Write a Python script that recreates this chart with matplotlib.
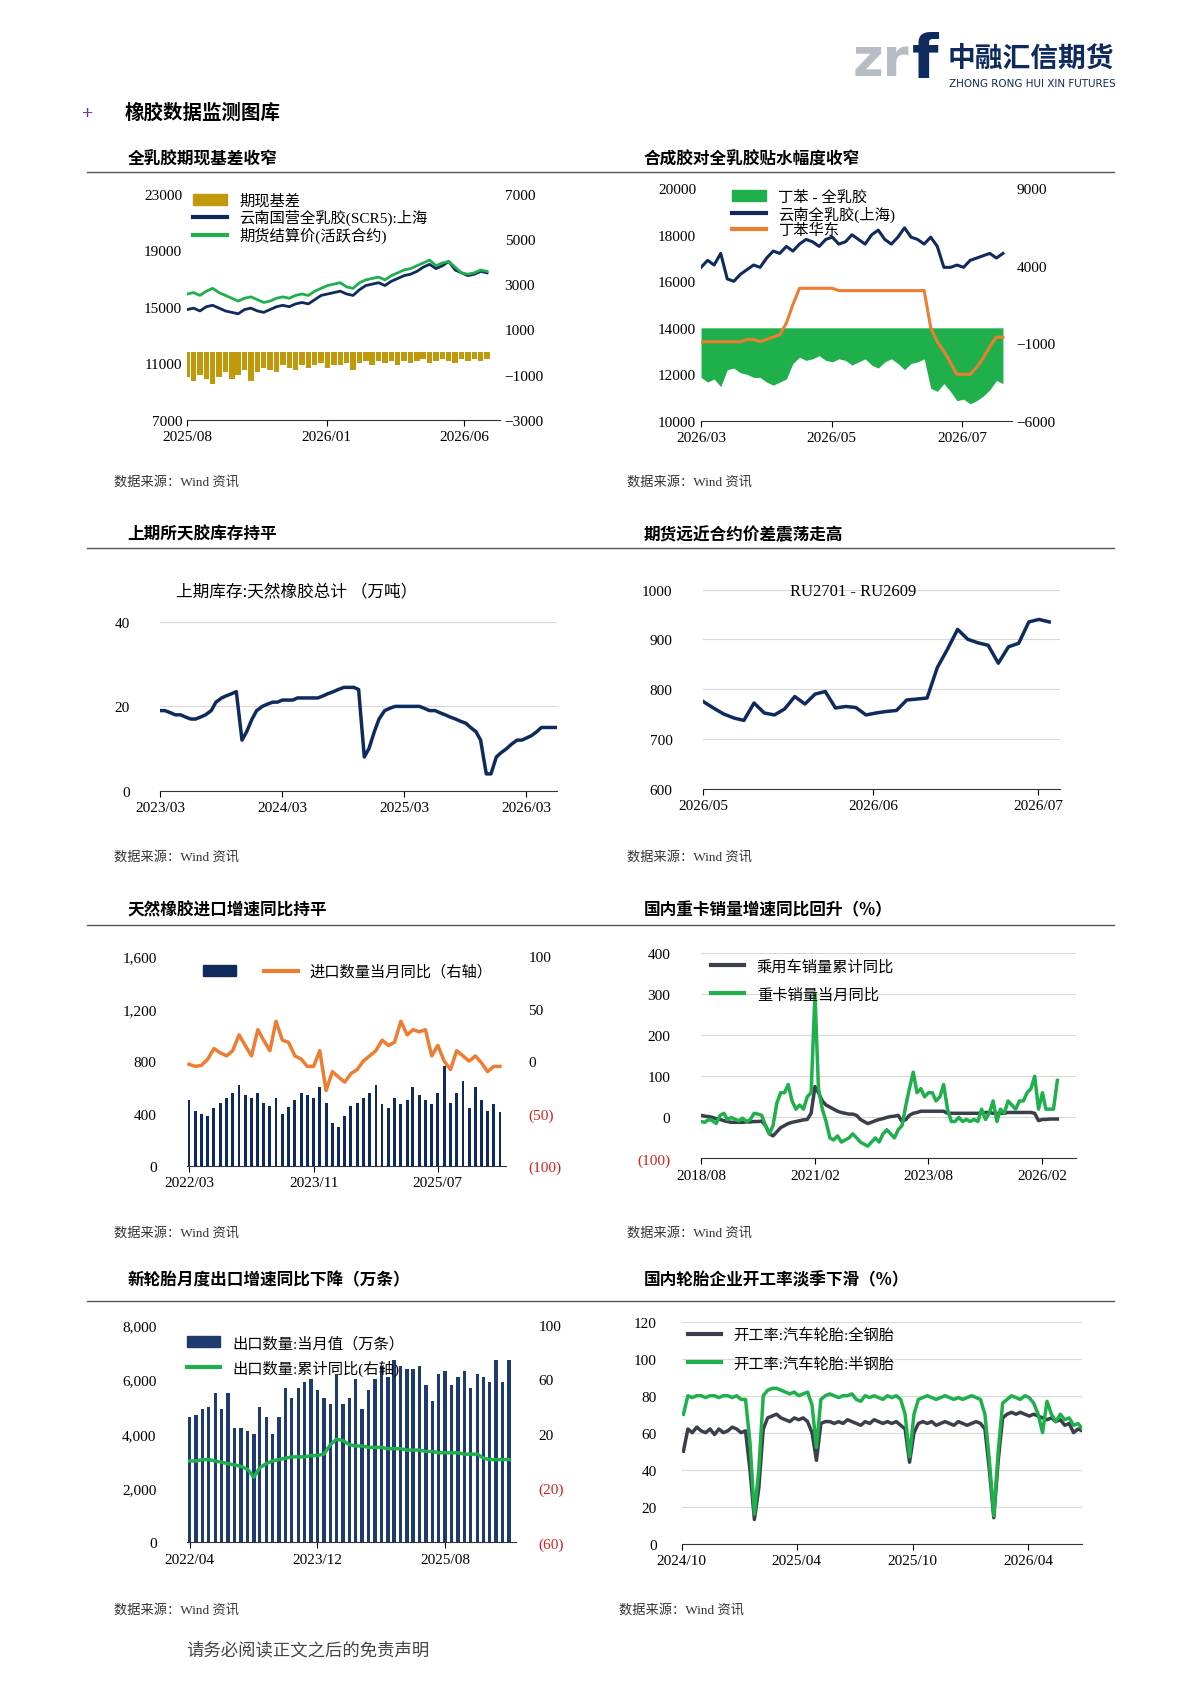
import numpy as np
import pandas as pd
import matplotlib
matplotlib.use("Agg")
import matplotlib.pyplot as plt
import matplotlib.dates as mdates
from matplotlib.patches import Patch
from matplotlib.lines import Line2D
from matplotlib.ticker import FuncFormatter, FixedLocator

plt.rcParams["font.family"] = ["Liberation Serif", "Noto Sans CJK SC", "DejaVu Sans"]
plt.rcParams["font.size"] = 10

NAVY = "#0f2a5c"
GREEN = "#1fb04c"
GOLD = "#c09a0a"
ORANGE = "#ec7d31"
DARK = "#3a3f4b"
RED = "#d62020"

# ---------------- data ----------------
# chart 1: basis (weekly)
c1_dates = pd.date_range("2025-08-01", periods=48, freq="7D")
c1_scr5 = [14800, 14900, 14700, 15000, 15100, 14900, 14700, 14600, 14500, 14800, 14900, 14700,
           14600, 14800, 15000, 15100, 15000, 15200, 15300, 15200, 15500, 15800, 15900, 16000,
           16100, 15900, 15800, 16200, 16500, 16600, 16700, 16500, 16800, 17000, 17200, 17300,
           17500, 17800, 18000, 17700, 17900, 18200, 17600, 17400, 17200, 17300, 17500, 17400]
c1_fut = [15900, 16000, 15800, 16100, 16300, 16000, 15800, 15600, 15400, 15600, 15700, 15500,
          15300, 15400, 15600, 15700, 15600, 15800, 15900, 15800, 16100, 16300, 16500, 16600,
          16700, 16400, 16300, 16700, 16900, 17000, 17100, 16900, 17200, 17400, 17600, 17700,
          17900, 18100, 18300, 17900, 18100, 18200, 17800, 17400, 17300, 17400, 17600, 17500]
c1_basis = [-1100, -1300, -1000, -1200, -1400, -1100, -900, -1200, -1000, -800, -1300, -900,
            -700, -800, -900, -600, -700, -800, -600, -700, -600, -500, -700, -600,
            -600, -500, -800, -500, -400, -600, -400, -500, -400, -600, -400, -500,
            -400, -300, -500, -400, -300, -400, -500, -300, -400, -300, -400, -300]

# chart 2: SBR vs natural rubber
c2_dates = pd.date_range("2026-03-01", "2026-07-20", periods=47)
c2_nr = [16600, 16900, 16700, 17200, 16100, 16000, 16300, 16500, 16700, 16600, 17000, 17300,
         17200, 17500, 17300, 17600, 17800, 17700, 17500, 17800, 17900, 17600, 17700, 18000,
         17800, 17600, 18000, 18200, 17800, 17600, 17900, 18300, 17900, 17800, 17600, 17900,
         17500, 16600, 16600, 16700, 16600, 16900, 17000, 17100, 17200, 17000, 17200]
c2_sbr = [13400, 13400, 13400, 13400, 13400, 13400, 13400, 13500, 13500, 13400, 13500, 13600,
          13700, 14200, 15000, 15700, 15700, 15700, 15700, 15700, 15700, 15600, 15600, 15600,
          15600, 15600, 15600, 15600, 15600, 15600, 15600, 15600, 15600, 15600, 15600, 14000,
          13400, 13000, 12500, 12000, 12000, 12000, 12300, 12700, 13200, 13600, 13600]
c2_diff = [-3200, -3500, -3300, -3800, -2700, -2600, -2900, -3000, -3200, -3200, -3500, -3700,
           -3500, -3300, -2300, -1900, -2100, -2000, -1800, -2100, -2200, -2000, -2100, -2400,
           -2200, -2000, -2400, -2600, -2200, -2000, -2300, -2700, -2300, -2200, -2000, -3900,
           -4100, -3600, -4100, -4700, -4600, -4900, -4700, -4400, -4000, -3400, -3600]

# chart 3: SHFE inventory (semi-monthly)
c3_dates = pd.date_range("2023-03-01", periods=79, freq="SMS")
c3_inv = [19, 19, 18.5, 18, 18, 17.5, 17, 17, 17.5, 18, 19, 21, 22, 22.5, 23, 23.5, 12, 14, 17, 19,
          20, 20.5, 21, 21, 21.5, 21.5, 21.5, 22, 22, 22, 22, 22, 22.5, 23, 23.5, 24, 24.5, 24.5, 24.5, 24,
          8, 10, 14, 17, 19, 19.5, 20, 20, 20, 20, 20, 20, 19.5, 19, 19, 18.5, 18, 17.5, 17, 16.5,
          16, 15, 14, 12, 4, 4, 8, 9, 10, 11, 12, 12, 12.5, 13, 14, 15, 15, 15, 15]

# chart 4: RU2701 - RU2609
c4_dates = pd.date_range("2026-05-01", "2026-07-03", periods=35)
c4_spread = [775, 762, 750, 742, 737, 772, 752, 748, 760, 785, 770, 790, 795, 762, 765, 763, 748,
             752, 755, 757, 778, 780, 782, 843, 880, 920, 900, 893, 888, 852, 885, 892, 935, 940, 935]

# chart 5: natural rubber imports (monthly)
c5_dates = pd.date_range("2022-03-01", periods=51, freq="MS")
c5_qty = [500, 420, 400, 380, 440, 480, 520, 560, 620, 540, 520, 560, 480, 460, 520, 400, 450,
          500, 560, 540, 520, 600, 480, 330, 300, 380, 460, 480, 520, 560, 620, 470, 440, 520,
          470, 500, 600, 540, 500, 470, 560, 760, 480, 560, 650, 440, 600, 500, 420, 470, 410]
c5_yoy = [-3, -5, -4, 2, 12, 8, 5, 10, 25, 15, 5, 30, 20, 10, 38, 20, 18, 5, 2, -5, -5, 10, -28,
          -10, -15, -20, -12, -8, 0, 5, 10, 20, 15, 18, 38, 25, 30, 28, 30, 5, 15, 0, -8, 10, 5,
          0, 5, -2, -10, -5, -5]

# chart 6: vehicle sales yoy (monthly)
c6_dates = pd.date_range("2018-08-01", periods=95, freq="MS")
c6_car = [5, 3, 2, 0, -3,
          -5, -8, -10, -12, -12, -12, -12, -11, -11, -10, -10, -9,
          -20, -40, -45, -35, -25, -20, -15, -12, -10, -8, -6, -5,
          10, 75, 60, 40, 30, 25, 20, 15, 12, 10, 8, 8,
          5, -5, -10, -15, -12, -8, -5, -3, 0, 2, 3, 5,
          -10, -5, 5, 10, 12, 15, 15, 15, 15, 15, 15, 15,
          10, 10, 10, 10, 10, 10, 10, 10, 10, 10, 12, 12,
          10, 10, 10, 10, 12, 12, 12, 12, 12, 12, 12, 10,
          -8, -5, -5, -4, -4, -4]
c6_truck = [-10, -12, -5, -8, -15,
            5, 10, -5, 0, -5, -8, -2, -10, -5, 10, 8, 5,
            -20, -40, -20, 35, 60, 60, 80, 40, 20, 30, 20, 50,
            60, 300, 70, 20, -10, -50, -55, -45, -60, -55, -50, -40,
            -50, -60, -65, -70, -60, -50, -60, -40, -30, -40, -50, -30,
            -20, 30, 70, 110, 60, 70, 50, 60, 60, 40, 50, 80,
            20, -10, -10, 0, -10, -5, -10, -5, -10, 20, -5, 10,
            40, -10, 20, 10, 40, 30, 20, 40, 40, 60, 70, 100,
            20, 60, 20, 20, 20, 90]

# chart 7: tyre exports (monthly)
c7_dates = pd.date_range("2022-04-01", periods=51, freq="MS")
c7_qty = [4600, 4700, 4900, 5000, 5500, 4900, 5500, 4200, 4200, 4100, 4000, 5000, 4600, 4000,
          4600, 5700, 5300, 5700, 5900, 6000, 5600, 5300, 5100, 6200, 5100, 5300, 6000, 4900,
          5600, 6000, 6500, 6100, 6700, 6500, 6400, 6400, 6500, 5800, 5200, 6200, 6300, 5800,
          6100, 6300, 5700, 6200, 6100, 5900, 6700, 5900, 6700]
c7_cum = [0, 0, 1, 1, 0, -1, -2, -3, -4, -6, -12, -5, -2, 0, 1, 2, 3, 3, 3, 4, 4, 5, 12, 16, 15,
          12, 11, 11, 10, 10, 10, 9, 9, 9, 8, 8, 8, 7, 7, 6, 6, 6, 6, 5, 5, 5, 2, 1, 1, 1, 1]

# chart 8: tyre operating rates (weekly)
c8_dates = pd.date_range("2024-10-04", periods=91, freq="7D")
c8_full = [50, 62, 60, 63, 61, 60, 62, 59, 62, 60, 61, 63, 62, 60, 61,
           40, 13, 30,
           62, 68, 69, 70, 68, 67, 66, 68, 67, 68, 66, 60,
           45,
           65, 66, 66, 65, 66, 65, 67, 66, 65, 64, 66, 65, 67, 66, 65, 66, 65, 66, 64, 62,
           44, 60,
           65, 66, 65, 66, 64, 65, 66, 65, 64, 66, 65, 64, 65, 66, 65, 62,
           40, 14, 45,
           68, 70, 71, 70, 71, 70, 69, 70, 69, 68, 67, 68, 66, 67, 64, 65, 60, 62, 61]
c8_semi = [70, 80, 79, 80, 80, 79, 80, 80, 79, 80, 80, 79, 80, 78, 78,
           55, 16, 40,
           80, 83, 84, 84, 83, 82, 81, 82, 80, 81, 82, 75,
           52,
           78, 80, 81, 80, 79, 80, 80, 81, 78, 77, 80, 79, 80, 79, 78, 80, 79, 80, 78, 70,
           47, 70,
           78, 79, 80, 79, 78, 79, 80, 79, 78, 79, 78, 79, 80, 79, 78, 70,
           45, 15, 50,
           76, 78, 80, 79, 78, 80, 79, 76, 70, 60, 77, 70, 66, 70, 67, 68, 64, 65, 62]

# ---------------- layout helpers ----------------
W, H = 1100.0, 1556.0
fig = plt.figure(figsize=(11.9, 16.83), dpi=100)


def rect(x0, y0, x1, y1):
    return [x0 / W, 1 - y1 / H, (x1 - x0) / W, (y1 - y0) / H]


def ftext(x, y, s, **kw):
    fig.text(x / W, 1 - y / H, s, **kw)


def hline(x0, x1, y, color="#555", lw=1.0):
    fig.add_artist(Line2D([x0 / W, x1 / W], [1 - y / H, 1 - y / H], color=color, lw=lw))


def style(ax, grid=False):
    for s in ("top", "right", "left"):
        ax.spines[s].set_visible(False)
    ax.spines["bottom"].set_color("#333")
    ax.tick_params(axis="y", length=0, labelsize=11)
    ax.tick_params(axis="x", labelsize=11, length=4, direction="out")
    if grid:
        ax.grid(axis="y", color="#d9d9d9", lw=0.8)
        ax.set_axisbelow(True)


def date_ticks(ax, ticks):
    ax.xaxis.set_major_locator(FixedLocator([mdates.date2num(pd.Timestamp(t)) for t in ticks]))
    ax.xaxis.set_major_formatter(mdates.DateFormatter("%Y/%m"))


def twin(ax):
    ax2 = ax.twinx()
    for s in ("top", "right", "left", "bottom"):
        ax2.spines[s].set_visible(False)
    ax2.tick_params(axis="y", length=0, labelsize=11)
    return ax2


comma = FuncFormatter(lambda v, p: f"{v:,.0f}")
paren = FuncFormatter(lambda v, p: f"({-v:,.0f})" if v < 0 else f"{v:,.0f}")

# ---------------- header ----------------
ftext(788, 70, "zr", fontsize=38, color="#b8bcc4", fontweight="bold", family="DejaVu Sans")
ftext(843, 72, "f", fontsize=44, color=NAVY, fontweight="bold", family="DejaVu Sans")
ftext(876, 62, "中融汇信期货", fontsize=20, color=NAVY, fontweight="bold", family="Noto Sans CJK SC")
ftext(877, 80, "ZHONG RONG HUI XIN FUTURES", fontsize=7.5, color=NAVY, family="DejaVu Sans")
ftext(76, 110, "+", fontsize=14, color="#7030a0", fontweight="bold")
ftext(115, 110, "橡胶数据监测图库", fontsize=14, fontweight="bold", family="Noto Sans CJK SC")

titles = [(118, 152, "全乳胶期现基差收窄"), (595, 152, "合成胶对全乳胶贴水幅度收窄"),
          (118, 499, "上期所天胶库存持平"), (595, 499, "期货远近合约价差震荡走高"),
          (118, 846, "天然橡胶进口增速同比持平"), (595, 846, "国内重卡销量增速同比回升（%）"),
          (118, 1188, "新轮胎月度出口增速同比下降（万条）"), (595, 1188, "国内轮胎企业开工率淡季下滑（%）")]
for x, y, s in titles:
    ftext(x, y, s, fontsize=12, fontweight="bold", family="Noto Sans CJK SC")
for y in (160, 508, 856, 1204):
    hline(80, 1030, y)
for x, y in [(105, 449), (580, 449), (105, 796), (580, 796), (105, 1143), (580, 1143),
             (105, 1492), (572, 1492)]:
    ftext(x, y, "数据来源：Wind 资讯", fontsize=9.5, color="#333")
ftext(172, 1530, "请务必阅读正文之后的免责声明", fontsize=12.5, color="#444")

# ---------------- chart 1 ----------------
ax = fig.add_axes(rect(173, 180, 462, 389))
style(ax)
ax.plot(c1_dates, c1_scr5, color=NAVY, lw=2)
ax.plot(c1_dates, c1_fut, color=GREEN, lw=2)
ax.set_ylim(7000, 23000)
ax.set_yticks([7000, 11000, 15000, 19000, 23000])
ax.set_xlim(pd.Timestamp("2025-08-01"), pd.Timestamp("2026-07-10"))
date_ticks(ax, ["2025-08-01", "2026-01-01", "2026-06-01"])
ax2 = twin(ax)
ax2.bar(c1_dates, c1_basis, width=6, color=GOLD)
ax2.set_ylim(-3000, 7000)
ax2.set_yticks([-3000, -1000, 1000, 3000, 5000, 7000])
ax.legend([Patch(color=GOLD), Line2D([], [], color=NAVY, lw=3), Line2D([], [], color=GREEN, lw=3)],
          ["期现基差", "云南国营全乳胶(SCR5):上海", "期货结算价(活跃合约)"],
          loc="upper left", bbox_to_anchor=(0.0, 1.03), frameon=False, fontsize=11,
          handlelength=2.2, labelspacing=0.1, borderaxespad=0)

# ---------------- chart 2 ----------------
ax = fig.add_axes(rect(648, 175, 935, 390))
style(ax)
ax.set_ylim(10000, 20000)
ax.set_yticks(range(10000, 20001, 2000))
ax.set_xlim(pd.Timestamp("2026-03-01"), pd.Timestamp("2026-07-24"))
date_ticks(ax, ["2026-03-01", "2026-05-01", "2026-07-01"])
ax2 = twin(ax)
ax2.fill_between(c2_dates, 0, c2_diff, color=GREEN, lw=0)
ax2.set_ylim(-6000, 9000)
ax2.set_yticks([-6000, -1000, 4000, 9000])
ax.set_zorder(ax2.get_zorder() + 1)
ax.patch.set_visible(False)
ax.plot(c2_dates, c2_nr, color=NAVY, lw=2.2)
ax.plot(c2_dates, c2_sbr, color=ORANGE, lw=2.2)
ax.legend([Patch(color=GREEN), Line2D([], [], color=NAVY, lw=3), Line2D([], [], color=ORANGE, lw=3)],
          ["丁苯 - 全乳胶", "云南全乳胶(上海)", "丁苯华东"],
          loc="upper left", bbox_to_anchor=(0.08, 1.02), frameon=False, fontsize=11,
          handlelength=2.2, labelspacing=0.1, borderaxespad=0)

# ---------------- chart 3 ----------------
ax = fig.add_axes(rect(148, 576, 515, 732))
style(ax, grid=True)
ax.plot(c3_dates, c3_inv, color=NAVY, lw=2.5)
ax.set_ylim(0, 40)
ax.set_yticks([0, 20, 40])
ax.tick_params(axis="y", pad=22)
ax.set_xlim(pd.Timestamp("2023-03-01"), pd.Timestamp("2026-06-01"))
date_ticks(ax, ["2023-03-01", "2024-03-01", "2025-03-01", "2026-03-01"])
ftext(163, 551, "上期库存:天然橡胶总计 （万吨）", fontsize=12, family="Noto Sans CJK SC")

# ---------------- chart 4 ----------------
ax = fig.add_axes(rect(650, 546, 980, 730))
style(ax, grid=True)
ax.plot(c4_dates, c4_spread, color=NAVY, lw=2.5)
ax.set_ylim(600, 1000)
ax.set_yticks(range(600, 1001, 100))
ax.tick_params(axis="y", pad=22)
ax.set_xlim(pd.Timestamp("2026-05-01"), pd.Timestamp("2026-07-05"))
date_ticks(ax, ["2026-05-01", "2026-06-01", "2026-07-01"])
ftext(730, 551, "RU2701 - RU2609", fontsize=12)

# ---------------- chart 5 ----------------
ax = fig.add_axes(rect(173, 885, 468, 1079))
style(ax)
ax.bar(c5_dates, c5_qty, width=14, color=NAVY)
ax.set_ylim(0, 1600)
ax.set_yticks(range(0, 1601, 400))
ax.yaxis.set_major_formatter(comma)
ax.tick_params(axis="y", pad=22)
ax.set_xlim(pd.Timestamp("2022-02-20"), pd.Timestamp("2026-06-01"))
date_ticks(ax, ["2022-03-01", "2023-11-01", "2025-07-01"])
ax2 = twin(ax)
ax2.plot(c5_dates, c5_yoy, color=ORANGE, lw=2.5)
ax2.set_ylim(-100, 100)
ax2.set_yticks([-100, -50, 0, 50, 100])
ax2.yaxis.set_major_formatter(paren)
ax2.tick_params(axis="y", pad=16)
for t, v in zip(ax2.get_yticklabels(), [-100, -50, 0, 50, 100]):
    if v < 0:
        t.set_color(RED)
ax.legend([Patch(color=NAVY), Line2D([], [], color=ORANGE, lw=3)], ["", "进口数量当月同比（右轴）"],
          loc="upper left", bbox_to_anchor=(0.03, 0.99), frameon=False, fontsize=11, ncol=2,
          handlelength=2.2, columnspacing=1.0, borderaxespad=0)

# ---------------- chart 6 ----------------
ax = fig.add_axes(rect(648, 882, 995, 1072))
style(ax, grid=True)
ax.plot(c6_dates, c6_car, color=DARK, lw=2.5)
ax.plot(c6_dates, c6_truck, color=GREEN, lw=2.5)
ax.set_ylim(-100, 400)
ax.set_yticks(range(-100, 401, 100))
ax.yaxis.set_major_formatter(paren)
ax.tick_params(axis="y", pad=22)
ax.set_xlim(pd.Timestamp("2018-08-01"), pd.Timestamp("2026-11-01"))
date_ticks(ax, ["2018-08-01", "2021-02-01", "2023-08-01", "2026-02-01"])
ax.legend([Line2D([], [], color=DARK, lw=3), Line2D([], [], color=GREEN, lw=3)],
          ["乘用车销量累计同比", "重卡销量当月同比"], loc="upper left", bbox_to_anchor=(0.01, 1.0),
          frameon=False, fontsize=11, handlelength=2.2, labelspacing=0.9, borderaxespad=0)
fig.canvas.draw()
for t in ax.get_yticklabels():
    if t.get_text().startswith("("):
        t.set_color(RED)

# ---------------- chart 7 ----------------
ax = fig.add_axes(rect(173, 1226, 477, 1427))
style(ax)
ax.bar(c7_dates, c7_qty, width=16, color="#1f3a6e")
ax.set_ylim(0, 8000)
ax.set_yticks(range(0, 8001, 2000))
ax.yaxis.set_major_formatter(comma)
ax.tick_params(axis="y", pad=22)
ax.set_xlim(pd.Timestamp("2022-03-20"), pd.Timestamp("2026-07-05"))
date_ticks(ax, ["2022-04-01", "2023-12-01", "2025-08-01"])
ax2 = twin(ax)
ax2.plot(c7_dates, c7_cum, color=GREEN, lw=2.5)
ax2.set_ylim(-60, 100)
ax2.set_yticks([-60, -20, 20, 60, 100])
ax2.yaxis.set_major_formatter(paren)
ax2.tick_params(axis="y", pad=16)
for t, v in zip(ax2.get_yticklabels(), [-60, -20, 20, 60, 100]):
    if v < 0:
        t.set_color(RED)
ax.legend([Patch(color="#1f3a6e"), Line2D([], [], color=GREEN, lw=3)],
          ["出口数量:当月值（万条）", "出口数量:累计同比(右轴)"], loc="upper left",
          bbox_to_anchor=(-0.02, 0.98), frameon=False, fontsize=11, handlelength=2.2,
          labelspacing=0.6, borderaxespad=0)

# ---------------- chart 8 ----------------
ax = fig.add_axes(rect(630, 1223, 1000, 1428))
style(ax, grid=True)
ax.plot(c8_dates, c8_full, color=DARK, lw=2.5)
ax.plot(c8_dates, c8_semi, color=GREEN, lw=2.5)
ax.set_ylim(0, 120)
ax.set_yticks(range(0, 121, 20))
ax.tick_params(axis="y", pad=18)
ax.set_xlim(pd.Timestamp("2024-10-01"), pd.Timestamp("2026-06-25"))
date_ticks(ax, ["2024-10-01", "2025-04-01", "2025-10-01", "2026-04-01"])
ax.legend([Line2D([], [], color=DARK, lw=3), Line2D([], [], color=GREEN, lw=3)],
          ["开工率:汽车轮胎:全钢胎", "开工率:汽车轮胎:半钢胎"], loc="upper left",
          bbox_to_anchor=(0.0, 1.0), frameon=False, fontsize=11, handlelength=2.2,
          labelspacing=0.9, borderaxespad=0)

fig.savefig("out.png", dpi=100)
